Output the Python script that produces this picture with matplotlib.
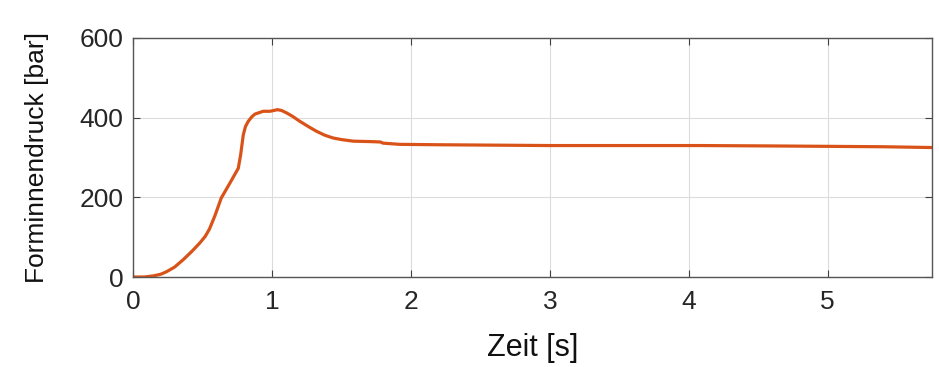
import matplotlib
matplotlib.use("Agg")
import matplotlib.pyplot as plt

time_s = [0, 0.08, 0.15, 0.2, 0.24, 0.30, 0.36, 0.42, 0.48, 0.52, 0.55, 0.59, 0.635,
          0.698, 0.758, 0.775, 0.794, 0.81, 0.83, 0.855, 0.878, 0.937, 0.986, 1.04,
          1.07, 1.105, 1.15, 1.2, 1.27, 1.32, 1.38, 1.44, 1.5, 1.585, 1.7, 1.78,
          1.8, 1.92, 2.2, 2.6, 3.0, 3.5, 4.08, 4.6, 5.0, 5.4, 5.75]
pressure_bar = [0, 0, 3, 7, 13, 25, 43, 63, 85, 102, 120, 154, 198,
                236, 273, 307, 357, 378, 391, 402, 409, 416, 416, 420,
                418, 412, 403, 391, 376, 366, 356, 349, 345, 341, 340, 339,
                336, 333, 332, 331, 330, 330, 330, 329, 328, 327, 325]
x_ticks = [0, 1, 2, 3, 4, 5]
y_ticks = [0, 200, 400, 600]

plt.rcParams['font.family'] = ['Liberation Sans', 'DejaVu Sans']

fig = plt.figure(figsize=(9.39, 3.67), dpi=100)
ax = fig.add_axes([0.1416, 0.2452, 0.8509, 0.6513])
ax.plot(time_s, pressure_bar, color='#D95319', lw=2.3,
        solid_joinstyle='round', solid_capstyle='round')
ax.set_xlim(0, 5.75)
ax.set_ylim(0, 600)
ax.set_xticks(x_ticks)
ax.set_yticks(y_ticks)
ax.grid(True, color='#dcdcdc', lw=0.8)
ax.set_axisbelow(True)
ax.tick_params(direction='in', length=5, width=0.8, colors='#404040',
               labelsize=19, labelcolor='#262626', top=True, right=True)
ax.tick_params(axis='x', pad=9)
ax.tick_params(axis='y', pad=7)
for s in ax.spines.values():
    s.set_color('#555555')
    s.set_linewidth(1.0)
ax.set_xlabel('Zeit [s]', fontsize=22, color='#111111', labelpad=14)
ax.set_ylabel('Forminnendruck [bar]', fontsize=19, color='#111111', labelpad=22)
fig.savefig('out.png', dpi=100)
